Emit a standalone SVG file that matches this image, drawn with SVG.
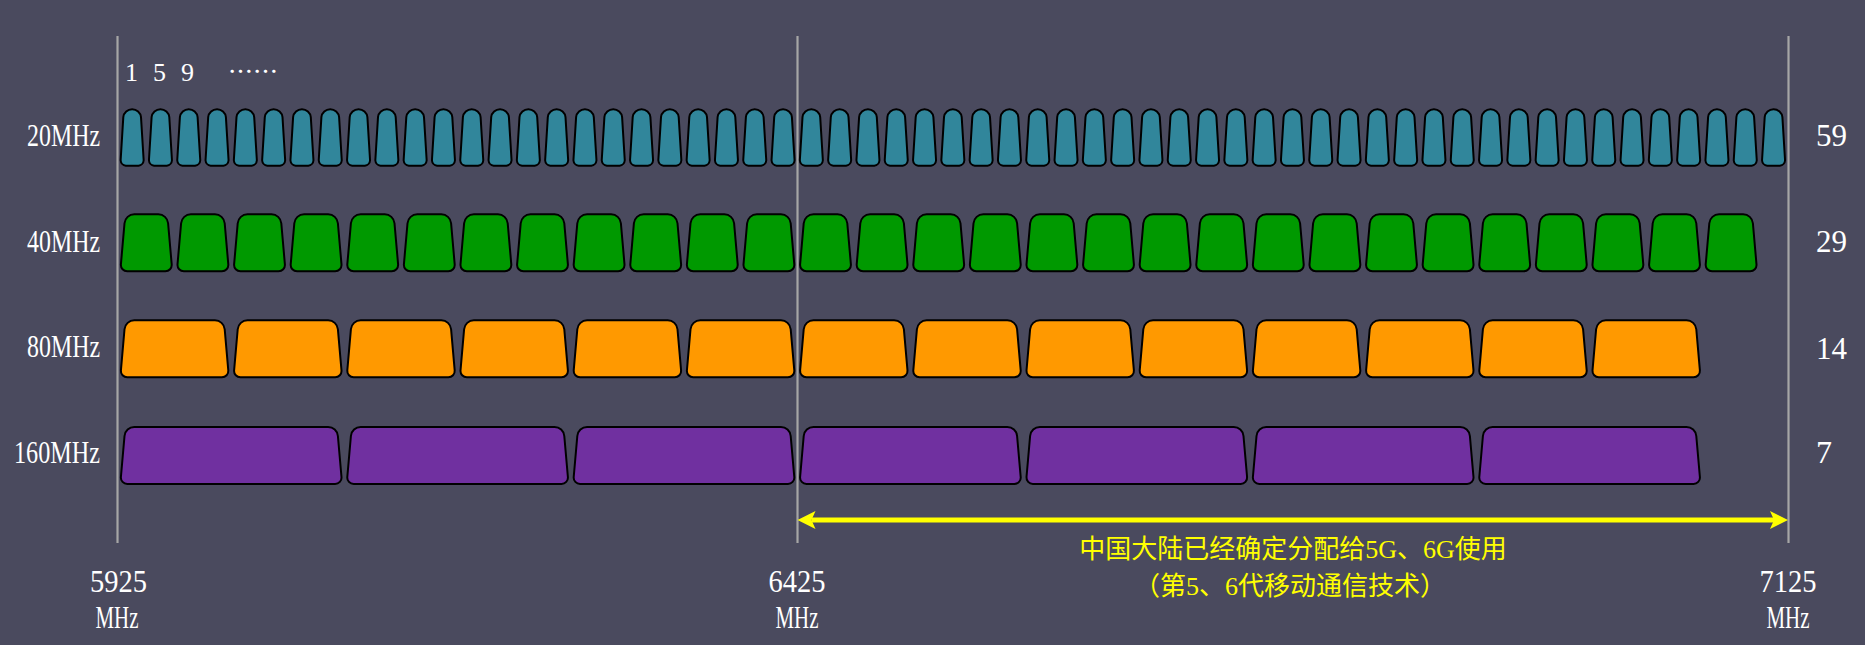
<svg xmlns="http://www.w3.org/2000/svg" xmlns:xlink="http://www.w3.org/1999/xlink" width="1865" height="645" viewBox="0 0 1865 645">
<style>
.t{font-family:"Liberation Serif",serif;fill:#ffffff}
.cn{font-family:"Liberation Serif","Noto Sans CJK SC",sans-serif;fill:#ffff00;font-size:26px}
.ax{stroke:#a6a6a6;stroke-width:2.2;fill:none}
.c20{fill:#31869b;stroke:#000;stroke-width:2}
.c40{fill:#009900;stroke:#000;stroke-width:2}
.c80{fill:#ff9900;stroke:#000;stroke-width:2}
.c160{fill:#7030a0;stroke:#000;stroke-width:2}
</style>
<defs>
<path id="s20" d="M5.5,0 A5.8,5.8 0 0 1 0.34,-5.49 L3,-48.5 A8.9,8.9 0 0 1 20.7,-48.5 L23.36,-5.49 A5.8,5.8 0 0 1 18.2,0 Z"/>
<path id="s40" d="M7,0 A6.4,6.4 0 0 1 0.61,-6.97 L4.21,-48.03 A9.8,9.8 0 0 1 14,-57 L38,-57 A9.8,9.8 0 0 1 47.79,-48.03 L51.39,-6.97 A6.4,6.4 0 0 1 45,0 Z"/>
<path id="s80" d="M7,0 A6.4,6.4 0 0 1 0.61,-6.97 L4.21,-48.03 A9.8,9.8 0 0 1 14,-57 L94.6,-57 A9.8,9.8 0 0 1 104.39,-48.03 L107.99,-6.97 A6.4,6.4 0 0 1 101.6,0 Z"/>
<path id="s160" d="M7,0 A6.4,6.4 0 0 1 0.61,-6.97 L4.21,-48.03 A9.8,9.8 0 0 1 14,-57 L207.8,-57 A9.8,9.8 0 0 1 217.59,-48.03 L221.19,-6.97 A6.4,6.4 0 0 1 214.8,0 Z"/>
<marker id="ah" markerUnits="userSpaceOnUse" markerWidth="30" markerHeight="30" viewBox="-10 -15 30 30" refX="0" refY="0" orient="auto-start-reverse">
<path d="M14,0 L-4,-9 L0,0 L-4,9 Z" fill="#ffff00"/>
</marker>
</defs>
<rect x="0" y="0" width="1865" height="645" fill="#4a4a5e"/>

<g id="axes">
<line class="ax" x1="117.5" y1="36" x2="117.5" y2="543"/>
<line class="ax" x1="797.5" y1="36" x2="797.5" y2="543"/>
<line class="ax" x1="1788.5" y1="36" x2="1788.5" y2="543"/>
</g>

<g id="row-20MHz" class="c20">
<use id="c20-1" href="#s20" x="120.3" y="165.7"/><use id="c20-2" href="#s20" x="148.6" y="165.7"/><use id="c20-3" href="#s20" x="176.9" y="165.7"/><use id="c20-4" href="#s20" x="205.2" y="165.7"/><use id="c20-5" href="#s20" x="233.5" y="165.7"/><use id="c20-6" href="#s20" x="261.8" y="165.7"/><use id="c20-7" href="#s20" x="290.1" y="165.7"/><use id="c20-8" href="#s20" x="318.4" y="165.7"/><use id="c20-9" href="#s20" x="346.7" y="165.7"/><use id="c20-10" href="#s20" x="375" y="165.7"/>
<use id="c20-11" href="#s20" x="403.3" y="165.7"/><use id="c20-12" href="#s20" x="431.6" y="165.7"/><use id="c20-13" href="#s20" x="459.9" y="165.7"/><use id="c20-14" href="#s20" x="488.2" y="165.7"/><use id="c20-15" href="#s20" x="516.5" y="165.7"/><use id="c20-16" href="#s20" x="544.8" y="165.7"/><use id="c20-17" href="#s20" x="573.1" y="165.7"/><use id="c20-18" href="#s20" x="601.4" y="165.7"/><use id="c20-19" href="#s20" x="629.7" y="165.7"/><use id="c20-20" href="#s20" x="658" y="165.7"/>
<use id="c20-21" href="#s20" x="686.3" y="165.7"/><use id="c20-22" href="#s20" x="714.6" y="165.7"/><use id="c20-23" href="#s20" x="742.9" y="165.7"/><use id="c20-24" href="#s20" x="771.2" y="165.7"/><use id="c20-25" href="#s20" x="799.5" y="165.7"/><use id="c20-26" href="#s20" x="827.8" y="165.7"/><use id="c20-27" href="#s20" x="856.1" y="165.7"/><use id="c20-28" href="#s20" x="884.4" y="165.7"/><use id="c20-29" href="#s20" x="912.7" y="165.7"/><use id="c20-30" href="#s20" x="941" y="165.7"/>
<use id="c20-31" href="#s20" x="969.3" y="165.7"/><use id="c20-32" href="#s20" x="997.6" y="165.7"/><use id="c20-33" href="#s20" x="1025.9" y="165.7"/><use id="c20-34" href="#s20" x="1054.2" y="165.7"/><use id="c20-35" href="#s20" x="1082.5" y="165.7"/><use id="c20-36" href="#s20" x="1110.8" y="165.7"/><use id="c20-37" href="#s20" x="1139.1" y="165.7"/><use id="c20-38" href="#s20" x="1167.4" y="165.7"/><use id="c20-39" href="#s20" x="1195.7" y="165.7"/><use id="c20-40" href="#s20" x="1224" y="165.7"/>
<use id="c20-41" href="#s20" x="1252.3" y="165.7"/><use id="c20-42" href="#s20" x="1280.6" y="165.7"/><use id="c20-43" href="#s20" x="1308.9" y="165.7"/><use id="c20-44" href="#s20" x="1337.2" y="165.7"/><use id="c20-45" href="#s20" x="1365.5" y="165.7"/><use id="c20-46" href="#s20" x="1393.8" y="165.7"/><use id="c20-47" href="#s20" x="1422.1" y="165.7"/><use id="c20-48" href="#s20" x="1450.4" y="165.7"/><use id="c20-49" href="#s20" x="1478.7" y="165.7"/><use id="c20-50" href="#s20" x="1507" y="165.7"/>
<use id="c20-51" href="#s20" x="1535.3" y="165.7"/><use id="c20-52" href="#s20" x="1563.6" y="165.7"/><use id="c20-53" href="#s20" x="1591.9" y="165.7"/><use id="c20-54" href="#s20" x="1620.2" y="165.7"/><use id="c20-55" href="#s20" x="1648.5" y="165.7"/><use id="c20-56" href="#s20" x="1676.8" y="165.7"/><use id="c20-57" href="#s20" x="1705.1" y="165.7"/><use id="c20-58" href="#s20" x="1733.4" y="165.7"/><use id="c20-59" href="#s20" x="1761.7" y="165.7"/>
</g>

<g id="row-40MHz" class="c40">
<use id="c40-1" href="#s40" x="120.3" y="271.3"/><use id="c40-2" href="#s40" x="176.9" y="271.3"/><use id="c40-3" href="#s40" x="233.5" y="271.3"/><use id="c40-4" href="#s40" x="290.1" y="271.3"/><use id="c40-5" href="#s40" x="346.7" y="271.3"/><use id="c40-6" href="#s40" x="403.3" y="271.3"/><use id="c40-7" href="#s40" x="459.9" y="271.3"/><use id="c40-8" href="#s40" x="516.5" y="271.3"/><use id="c40-9" href="#s40" x="573.1" y="271.3"/><use id="c40-10" href="#s40" x="629.7" y="271.3"/>
<use id="c40-11" href="#s40" x="686.3" y="271.3"/><use id="c40-12" href="#s40" x="742.9" y="271.3"/><use id="c40-13" href="#s40" x="799.5" y="271.3"/><use id="c40-14" href="#s40" x="856.1" y="271.3"/><use id="c40-15" href="#s40" x="912.7" y="271.3"/><use id="c40-16" href="#s40" x="969.3" y="271.3"/><use id="c40-17" href="#s40" x="1025.9" y="271.3"/><use id="c40-18" href="#s40" x="1082.5" y="271.3"/><use id="c40-19" href="#s40" x="1139.1" y="271.3"/><use id="c40-20" href="#s40" x="1195.7" y="271.3"/>
<use id="c40-21" href="#s40" x="1252.3" y="271.3"/><use id="c40-22" href="#s40" x="1308.9" y="271.3"/><use id="c40-23" href="#s40" x="1365.5" y="271.3"/><use id="c40-24" href="#s40" x="1422.1" y="271.3"/><use id="c40-25" href="#s40" x="1478.7" y="271.3"/><use id="c40-26" href="#s40" x="1535.3" y="271.3"/><use id="c40-27" href="#s40" x="1591.9" y="271.3"/><use id="c40-28" href="#s40" x="1648.5" y="271.3"/><use id="c40-29" href="#s40" x="1705.1" y="271.3"/>
</g>

<g id="row-80MHz" class="c80">
<use id="c80-1" href="#s80" x="120.3" y="377.3"/><use id="c80-2" href="#s80" x="233.5" y="377.3"/><use id="c80-3" href="#s80" x="346.7" y="377.3"/><use id="c80-4" href="#s80" x="459.9" y="377.3"/><use id="c80-5" href="#s80" x="573.1" y="377.3"/><use id="c80-6" href="#s80" x="686.3" y="377.3"/><use id="c80-7" href="#s80" x="799.5" y="377.3"/>
<use id="c80-8" href="#s80" x="912.7" y="377.3"/><use id="c80-9" href="#s80" x="1025.9" y="377.3"/><use id="c80-10" href="#s80" x="1139.1" y="377.3"/><use id="c80-11" href="#s80" x="1252.3" y="377.3"/><use id="c80-12" href="#s80" x="1365.5" y="377.3"/><use id="c80-13" href="#s80" x="1478.7" y="377.3"/><use id="c80-14" href="#s80" x="1591.9" y="377.3"/>
</g>

<g id="row-160MHz" class="c160">
<use id="c160-1" href="#s160" x="120.3" y="484"/><use id="c160-2" href="#s160" x="346.7" y="484"/><use id="c160-3" href="#s160" x="573.1" y="484"/><use id="c160-4" href="#s160" x="799.5" y="484"/><use id="c160-5" href="#s160" x="1025.9" y="484"/><use id="c160-6" href="#s160" x="1252.3" y="484"/><use id="c160-7" href="#s160" x="1478.7" y="484"/>
</g>

<g id="connectors">
<line x1="811.5" y1="520" x2="1774" y2="520" stroke="#ffff00" stroke-width="5" marker-start="url(#ah)" marker-end="url(#ah)"/>
</g>

<g id="channel-numbers">
<text class="t" x="125" y="80.7" font-size="26">1</text>
<text class="t" x="153" y="80.7" font-size="26">5</text>
<text class="t" x="181" y="80.7" font-size="26">9</text>
<text x="228" y="80.5" font-size="25" fill="#ffffff" style="font-family:'Noto Sans CJK SC',sans-serif">……</text>
</g>

<g id="width-labels">
<text class="t" x="100" y="146" font-size="31" text-anchor="end" textLength="73" lengthAdjust="spacingAndGlyphs">20MHz</text>
<text class="t" x="100" y="251.7" font-size="31" text-anchor="end" textLength="73" lengthAdjust="spacingAndGlyphs">40MHz</text>
<text class="t" x="100" y="356.7" font-size="31" text-anchor="end" textLength="73" lengthAdjust="spacingAndGlyphs">80MHz</text>
<text class="t" x="100" y="463.3" font-size="31" text-anchor="end" textLength="86" lengthAdjust="spacingAndGlyphs">160MHz</text>
</g>

<g id="count-labels">
<text class="t" x="1816" y="146.3" font-size="32" textLength="31" lengthAdjust="spacingAndGlyphs">59</text>
<text class="t" x="1816" y="252" font-size="32" textLength="31" lengthAdjust="spacingAndGlyphs">29</text>
<text class="t" x="1816" y="359" font-size="32" textLength="31" lengthAdjust="spacingAndGlyphs">14</text>
<text class="t" x="1816" y="463.3" font-size="32">7</text>
</g>

<g id="freq-labels">
<text class="t" x="118.5" y="591.7" font-size="31" text-anchor="middle" textLength="57" lengthAdjust="spacingAndGlyphs">5925</text>
<text class="t" x="117" y="627.7" font-size="31" text-anchor="middle" textLength="43" lengthAdjust="spacingAndGlyphs">MHz</text>
<text class="t" x="797" y="591.7" font-size="31" text-anchor="middle" textLength="57" lengthAdjust="spacingAndGlyphs">6425</text>
<text class="t" x="797" y="627.7" font-size="31" text-anchor="middle" textLength="43" lengthAdjust="spacingAndGlyphs">MHz</text>
<text class="t" x="1788" y="591.7" font-size="31" text-anchor="middle" textLength="57" lengthAdjust="spacingAndGlyphs">7125</text>
<text class="t" x="1788" y="627.7" font-size="31" text-anchor="middle" textLength="43" lengthAdjust="spacingAndGlyphs">MHz</text>
</g>

<g id="note">
<text class="cn" x="1293" y="558" text-anchor="middle">中国大陆已经确定分配给5G、6G使用</text>
<text class="cn" x="1290" y="595" text-anchor="middle">（第5、6代移动通信技术）</text>
</g>
</svg>
